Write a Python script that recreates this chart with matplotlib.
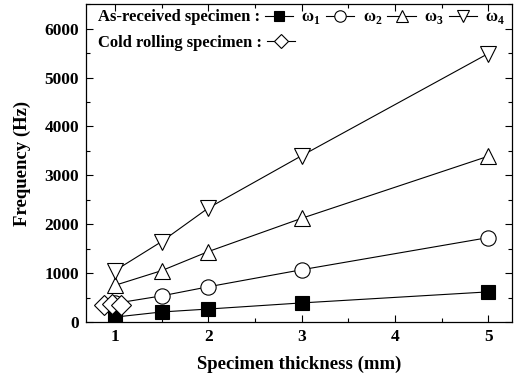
import matplotlib
matplotlib.use("Agg")
import matplotlib.pyplot as plt
from matplotlib.lines import Line2D
from matplotlib.ticker import MultipleLocator

plt.rcParams['font.family'] = ['Liberation Serif', 'DejaVu Serif']
plt.rcParams['font.weight'] = 'bold'
plt.rcParams['mathtext.fontset'] = 'custom'
plt.rcParams['mathtext.rm'] = 'Liberation Serif'
plt.rcParams['mathtext.bf'] = 'Liberation Serif:bold'

# as-received specimens
thickness = [1, 1.5, 2, 3, 5]
w1 = [100, 205, 265, 390, 616]
w2 = [380, 534, 720, 1068, 1726]
w3 = [750, 1050, 1440, 2120, 3390]
w4 = [1050, 1644, 2330, 3400, 5490]

# cold rolling specimens
cold_thickness = [0.88, 0.97, 1.06]
cold_freq = [340, 370, 340]

mode_labels = ['ω$_\\mathbf{1}$', 'ω$_\\mathbf{2}$', 'ω$_\\mathbf{3}$', 'ω$_\\mathbf{4}$']

fig = plt.figure(figsize=(5.19, 3.77), dpi=100)
ax = fig.add_axes([0.1657, 0.1459, 0.8208, 0.843])

kw = dict(color='k', lw=0.8, mec='k', mew=0.8)
h1, = ax.plot(thickness, w1, marker='s', ms=9.5, mfc='k', **kw)
h2, = ax.plot(thickness, w2, marker='o', ms=11, mfc='w', **kw)
h3, = ax.plot(thickness, w3, marker='^', ms=11.5, mfc='w', **kw)
h4, = ax.plot(thickness, w4, marker='v', ms=11.5, mfc='w', **kw)
ax.plot(cold_thickness, cold_freq, ls='none', marker='D', ms=10,
        mfc='w', mec='k', mew=0.8, zorder=3)

ax.set_xlim(0.69, 5.255)
ax.set_ylim(0, 6500)
ax.xaxis.set_major_locator(MultipleLocator(1))
ax.xaxis.set_minor_locator(MultipleLocator(0.5))
ax.yaxis.set_major_locator(MultipleLocator(1000))
ax.yaxis.set_minor_locator(MultipleLocator(500))
ax.tick_params(which='both', direction='in', top=True, right=True, labelsize=12.5, width=0.8)
ax.tick_params(which='major', length=5, pad=5)
ax.tick_params(which='minor', length=3)
for s in ax.spines.values():
    s.set_linewidth(0.9)

ax.set_xlabel('Specimen thickness (mm)', fontsize=13.5, fontweight='bold', labelpad=8)
ax.set_ylabel('Frequency (Hz)', fontsize=13.5, fontweight='bold', labelpad=10)

# legend rows: label first, then the sample
empty = Line2D([], [], ls='none')
hc = Line2D([], [], color='k', lw=0.8, marker='D', ms=10, mfc='w', mec='k', mew=0.8)
leg_kw = dict(markerfirst=False, frameon=False, loc='upper left', handlelength=1.7,
              handletextpad=0.3, fontsize=12, borderaxespad=0.3, markerscale=0.75)
leg1 = ax.legend([h1, h2, h3, h4, empty], ['As-received specimen :'] + mode_labels,
                 ncol=5, columnspacing=0.5, bbox_to_anchor=(0.0, 1.02), **leg_kw)
ax.add_artist(leg1)
ax.legend([hc], ['Cold rolling specimen :'], bbox_to_anchor=(0.0, 0.94), **leg_kw)

fig.savefig('out.png', dpi=100)
